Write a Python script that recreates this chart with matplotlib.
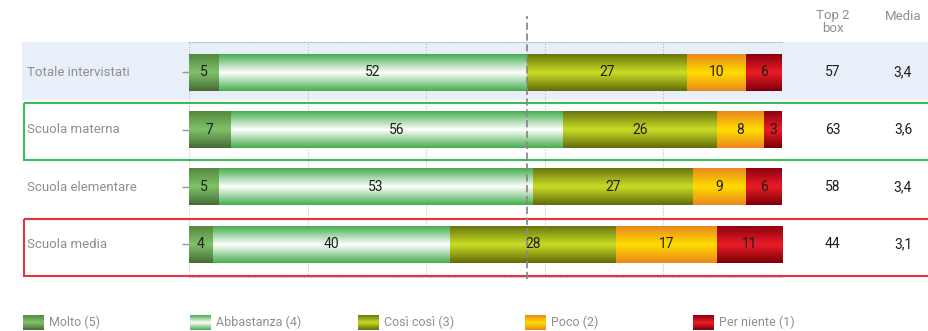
import numpy as np
import matplotlib
matplotlib.use("Agg")
import matplotlib.pyplot as plt
from matplotlib.colors import LinearSegmentedColormap
from matplotlib.patches import Rectangle
import matplotlib.transforms as mtransforms

# data
groups = ["Totale intervistati", "Scuola materna", "Scuola elementare", "Scuola media"]
series = ["Molto (5)", "Abbastanza (4)", "Così così (3)", "Poco (2)", "Per niente (1)"]
molto = [5, 7, 5, 4]
abbastanza = [52, 56, 53, 40]
cosi_cosi = [27, 26, 27, 28]
poco = [10, 8, 9, 17]
per_niente = [6, 3, 6, 11]
top2 = [57, 63, 58, 44]
media = ["3,4", "3,6", "3,4", "3,1"]
ref_line = molto[0] + abbastanza[0]  # top 2 box of the total

values = [molto, abbastanza, cosi_cosi, poco, per_niente]

# gradient colours (top, middle, bottom) for each answer
grad_colors = [
    ["#55893f", "#80c26a", "#466c34"],
    ["#46ae50", "#ffffff", "#46ae50"],
    ["#6a760e", "#cadd26", "#626c0a"],
    ["#ea881c", "#ffdd00", "#ea881c"],
    ["#8e0010", "#ec1c26", "#7c0008"],
]
cmaps = [LinearSegmentedColormap.from_list("c%d" % i, c) for i, c in enumerate(grad_colors)]
grad = np.linspace(0, 1, 64).reshape(-1, 1)

plt.rcParams['font.family'] = ['Liberation Sans Narrow', 'Roboto', 'DejaVu Sans']
label_grey = "#8f8f8f"

fig = plt.figure(figsize=(9.29, 3.31), dpi=100)
ax = fig.add_axes([189 / 929, (331 - 277) / 331, 593 / 929, 235 / 331])
ax.set_facecolor("none")

y = np.arange(len(groups))
bar_h = 0.645
left = np.zeros(len(groups))
for k, vals in enumerate(values):
    bars = ax.barh(y, vals, left=left, height=bar_h, color=grad_colors[k][1], zorder=3)
    for b, v in zip(bars, vals):
        x0, y0, w, h = b.get_x(), b.get_y(), b.get_width(), b.get_height()
        ax.imshow(grad, extent=(x0, x0 + w, y0 + h, y0), aspect='auto', cmap=cmaps[k],
                  interpolation='bicubic', zorder=3.5)
        ax.text(x0 + w / 2, y0 + h / 2, str(v), ha='center', va='center',
                fontsize=10, color="#1e1e1e", zorder=6)
    left = left + np.array(vals)

ax.set_xlim(0, 100)
ax.set_ylim(len(groups) - 1 + 0.57, -0.53)

# grid
ax.set_xticks(np.arange(0, 101, 20))
ax.grid(axis='x', color="#bbbbbb", linestyle=':', linewidth=0.8, zorder=1)
ax.set_axisbelow(True)
ax.tick_params(axis='x', length=0, labelbottom=False)
ax.set_yticks(y)
ax.set_yticklabels([])
ax.tick_params(axis='y', length=5, color="#999999", width=1)
for s in ["left", "right"]:
    ax.spines[s].set_visible(False)
for s in ["top", "bottom"]:
    ax.spines[s].set_color("#bbbbbb")
    ax.spines[s].set_linestyle(':')
    ax.spines[s].set_linewidth(0.8)

# reference dashed line
ax.axvline(ref_line, ymin=-0.01, ymax=1.11, color="#8a8a8a", linestyle=(0, (4, 2)),
           linewidth=1.3, zorder=7, clip_on=False)

# row bands / boxes
tr = mtransforms.blended_transform_factory(fig.transFigure, ax.transData)
ax.add_patch(Rectangle((22 / 929, -0.53), 1.0, 1.01, transform=tr, facecolor="#e8eff9",
                       edgecolor="none", zorder=0, clip_on=False))
ax.add_patch(Rectangle((23.5 / 929, 1 - 0.47), 1.0, 0.99, transform=tr, facecolor="none",
                       edgecolor="#3dbb5c", linewidth=1.5, zorder=2, clip_on=False))
ax.add_patch(Rectangle((23.5 / 929, 3 - 0.44), 1.0, 1.0, transform=tr, facecolor="none",
                       edgecolor="#e8323c", linewidth=1.5, zorder=2, clip_on=False))

# row labels and side columns
for i, g in enumerate(groups):
    ax.text(27 / 929, i, g, transform=tr, ha='left', va='center', fontsize=9.5,
            color=label_grey)
    ax.text(833 / 929, i, str(top2[i]), transform=tr, ha='center', va='center',
            fontsize=10, color="#1e1e1e")
    ax.text(903 / 929, i, media[i], transform=tr, ha='center', va='center',
            fontsize=10, color="#1e1e1e")

fig.text(833 / 929, 1 - 22 / 331, "Top 2\nbox", ha='center', va='center', fontsize=9.5,
         color=label_grey, linespacing=0.95)
fig.text(903 / 929, 1 - 16 / 331, "Media", ha='center', va='center', fontsize=9.5,
         color=label_grey)

# legend
lax = fig.add_axes([0, 0, 1, 1])
lax.set_xlim(0, 929)
lax.set_ylim(331, 0)
lax.axis('off')
lax.set_zorder(-1)
leg_x = [23, 190, 358, 525, 693]
for k, name in enumerate(series):
    lax.imshow(grad, extent=(leg_x[k], leg_x[k] + 21, 330, 315), aspect='auto',
               cmap=cmaps[k], interpolation='bicubic')
    lax.text(leg_x[k] + 26, 322.5, name, ha='left', va='center', fontsize=9,
             color=label_grey)
lax.set_xlim(0, 929)
lax.set_ylim(331, 0)

fig.savefig("out.png", dpi=100)
